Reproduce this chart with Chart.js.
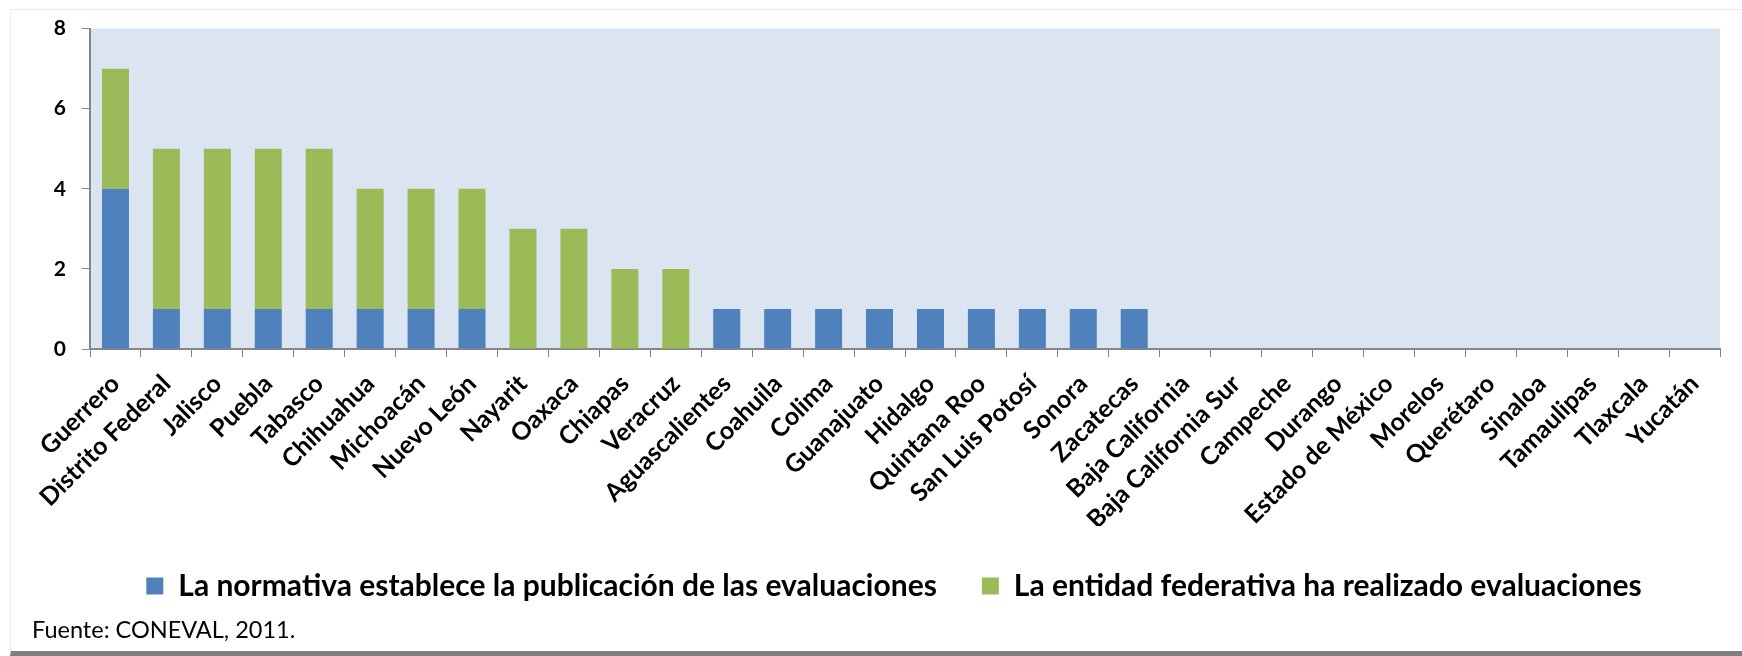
<!DOCTYPE html>
<html><head><meta charset="utf-8">
<script src="https://cdn.jsdelivr.net/npm/chart.js@4"></script>
<style>
html,body{margin:0;padding:0;background:#fff;width:1742px;height:656px;overflow:hidden;}
#frame{position:absolute;left:10px;top:9px;width:1740px;height:641px;border-top:1px solid #ececec;border-left:1px solid #ececec;border-bottom:5px solid #7f7f7f;box-sizing:content-box;}
#wrap{position:absolute;left:0;top:0;width:1742px;height:656px;}
#foot{position:absolute;left:32px;top:618px;font-family:Lato,"Open Sans",sans-serif;font-size:23.5px;line-height:23px;color:#000;z-index:2;}
</style></head>
<body>
<div id="frame"></div>
<div id="wrap"><canvas id="c" width="1742" height="656"></canvas></div>
<div id="foot">Fuente: CONEVAL, 2011.</div>
<script>
const categories = ["Guerrero","Distrito Federal","Jalisco","Puebla","Tabasco","Chihuahua","Michoacán","Nuevo León","Nayarit","Oaxaca","Chiapas","Veracruz","Aguascalientes","Coahuila","Colima","Guanajuato","Hidalgo","Quintana Roo","San Luis Potosí","Sonora","Zacatecas","Baja California","Baja California Sur","Campeche","Durango","Estado de México","Morelos","Querétaro","Sinaloa","Tamaulipas","Tlaxcala","Yucatán"];
const normativa = [4,1,1,1,1,1,1,1,0,0,0,0,1,1,1,1,1,1,1,1,1,0,0,0,0,0,0,0,0,0,0,0];
const realizado = [3,4,4,4,4,3,3,3,3,3,2,2,0,0,0,0,0,0,0,0,0,0,0,0,0,0,0,0,0,0,0,0];
const yTicks = [0,2,4,6,8];
const seriesNames = ["La normativa establece la publicación de las evaluaciones","La entidad federativa ha realizado evaluaciones"];

const plotBg = {
  id:'plotBg',
  beforeDraw(chart){
    const {ctx, chartArea:a} = chart;
    ctx.save(); ctx.fillStyle = '#DBE5F1';
    ctx.fillRect(a.left, a.top, a.right-a.left, a.bottom-a.top);
    ctx.restore();
  }
};
const legendShift = {
  id:'legendShift',
  afterLayout(chart){ if (chart.legend) chart.legend.left += 22; }
};
const FONT = "Lato, 'Open Sans', sans-serif";
new Chart(document.getElementById('c'), {
  type:'bar',
  data:{
    labels: categories,
    datasets:[
      {label: seriesNames[0], data: normativa, backgroundColor:'#4F81BD', borderWidth:0, barPercentage:0.53, categoryPercentage:1},
      {label: seriesNames[1], data: realizado, backgroundColor:'#9BBB59', borderWidth:0, barPercentage:0.53, categoryPercentage:1}
    ]
  },
  options:{
    responsive:false, animation:false,
    layout:{padding:{top:26,left:46,right:22,bottom:45}},
    plugins:{
      tooltip:{enabled:false},
      legend:{position:'bottom', labels:{font:{family:FONT,size:30,weight:'bold'}, color:'#000', boxWidth:17, boxHeight:17, padding:45}},
    },
    scales:{
      x:{stacked:true, offset:true,
        grid:{offset:true, drawOnChartArea:false, drawTicks:true, tickLength:8, color:'#868686'},
        border:{color:'#868686', width:2},
        ticks:{font:{family:FONT,size:25,weight:'bold'}, color:'#000', minRotation:45, maxRotation:45, autoSkip:false, padding:12},
        afterFit(s){ s.height = 177; }
      },
      y:{stacked:true, min:0, max:8,
        afterBuildTicks(s){ s.ticks = yTicks.map(v=>({value:v})); },
        grid:{drawOnChartArea:false, drawTicks:true, tickLength:8, color:'#868686'},
        border:{color:'#868686', width:2},
        ticks:{font:{family:FONT,size:21,weight:'bold'}, color:'#000', padding:16},
        afterFit(s){ s.width = 44; }
      }
    }
  },
  plugins:[plotBg, legendShift]
});
</script>
</body></html>
